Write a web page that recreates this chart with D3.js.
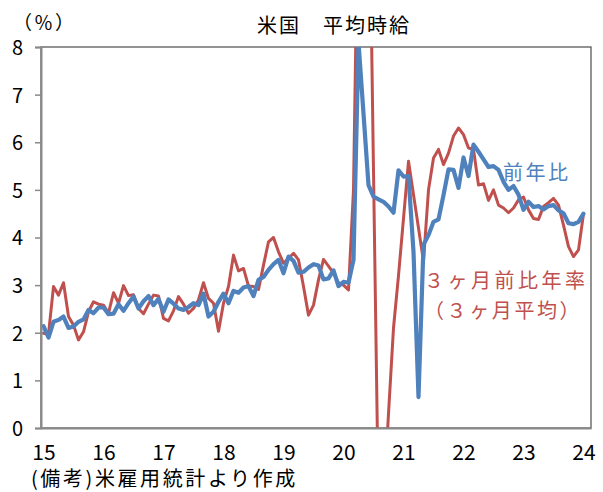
<!DOCTYPE html>
<html>
<head>
<meta charset="utf-8">
<script src="https://cdn.jsdelivr.net/npm/d3@7"></script>
<style>
  body { margin: 0; background: #fff; }
  svg { font-family: "Noto Sans CJK JP", "Noto Sans", sans-serif; }
</style>
</head>
<body>
<div id="chart"></div>
<script>
// 米国 平均時給 : 前年比 と 3ヶ月前比年率(3ヶ月平均), 2015年1月〜2024年1月 (月次)

var yearLabels = ["15", "16", "17", "18", "19", "20", "21", "22", "23", "24"];
var yTicks = [0, 1, 2, 3, 4, 5, 6, 7, 8];

// 前年比 (%)
var yoy = [
  2.14, 1.90, 2.23, 2.27, 2.34, 2.10, 2.13, 2.23, 2.28, 2.48, 2.41, 2.53,
  2.53, 2.39, 2.40, 2.60, 2.46, 2.62, 2.76, 2.51, 2.66, 2.77, 2.58, 2.71,
  2.44, 2.70, 2.61, 2.51, 2.48, 2.54, 2.62, 2.58, 2.82, 2.34, 2.44, 2.65,
  2.82, 2.62, 2.88, 2.84, 2.95, 2.98, 2.77, 3.11, 3.17, 3.32, 3.44, 3.53,
  3.25, 3.60, 3.51, 3.26, 3.28, 3.37, 3.44, 3.41, 3.12, 3.14, 3.31, 2.98,
  3.07, 3.05, 3.53, 8.10, 6.60, 5.10, 4.86, 4.80, 4.75, 4.65, 4.52, 5.41,
  5.28, 5.29, 3.70, 0.65, 3.85, 4.05, 4.33, 4.38, 4.89, 5.43, 5.42, 5.04,
  5.68, 5.29, 5.95, 5.80, 5.64, 5.48, 5.50, 5.42, 5.17, 5.00, 5.08, 4.90,
  4.58, 4.75, 4.64, 4.66, 4.59, 4.66, 4.68, 4.57, 4.51, 4.30, 4.28, 4.33,
  4.50
];

// 3ヶ月前比年率 (3ヶ月平均, %)
var ann3m = [
  1.99, 1.97, 2.97, 2.79, 3.05, 2.34, 2.16, 1.85, 2.02, 2.44, 2.65, 2.60,
  2.58, 2.41, 2.84, 2.62, 2.99, 2.78, 2.80, 2.51, 2.40, 2.60, 2.79, 2.77,
  2.30, 2.25, 2.46, 2.76, 2.60, 2.41, 2.51, 2.69, 3.05, 2.72, 2.62, 2.03,
  2.62, 2.97, 3.63, 3.30, 3.35, 2.98, 2.97, 2.91, 3.42, 3.91, 4.00, 3.70,
  3.46, 3.56, 3.67, 3.53, 2.97, 2.37, 2.58, 3.11, 3.54, 3.40, 3.25, 3.05,
  3.00, 2.90, 5.00, 11.8, 16.0, 12.6, 5.40, -1.7, -1.6, 0.30, 2.10, 3.20,
  4.40, 5.60, 4.90, 4.20, 3.50, 5.00, 5.67, 5.85, 5.53, 5.77, 6.13, 6.30,
  6.16, 5.88, 5.85, 5.10, 5.13, 4.78, 5.00, 4.68, 4.62, 4.52, 4.62, 4.79,
  4.85, 4.58, 4.40, 4.38, 4.65, 4.73, 4.82, 4.68, 4.26, 3.81, 3.60, 3.74,
  4.50
];

var W = 603, H = 492;
var plot = { left: 41, top: 47, right: 591, bottom: 428 };

var svg = d3.select("#chart")
  .append("svg")
  .attr("width", W)
  .attr("height", H);

// month index -> position (each month is one category slot)
var x = d3.scaleLinear()
  .domain([-0.5, yoy.length + 0.5])
  .range([plot.left, plot.right]);

var y = d3.scaleLinear()
  .domain([0, 8])
  .range([plot.bottom, plot.top]);

// plot area frame (top / right)
svg.append("rect")
  .attr("x", plot.left)
  .attr("y", plot.top)
  .attr("width", plot.right - plot.left)
  .attr("height", plot.bottom - plot.top)
  .style("fill", "none")
  .style("stroke", "#595959")
  .style("stroke-width", 1.3);

svg.append("clipPath")
  .attr("id", "clip")
  .append("rect")
  .attr("x", plot.left)
  .attr("y", plot.top)
  .attr("width", plot.right - plot.left)
  .attr("height", plot.bottom - plot.top);

var line = d3.line()
  .x(function (d, i) { return x(i); })
  .y(function (d) { return y(d); });

var series = [
  { name: "ann3m", values: ann3m, color: "#C0504D", width: 3 },
  { name: "yoy", values: yoy, color: "#4F81BD", width: 4.2 }
];

svg.append("g")
  .attr("clip-path", "url(#clip)")
  .selectAll("path")
  .data(series)
  .enter()
  .append("path")
  .attr("d", function (d) { return line(d.values); })
  .style("fill", "none")
  .style("stroke", function (d) { return d.color; })
  .style("stroke-width", function (d) { return d.width; })
  .style("stroke-linejoin", "round")
  .style("stroke-linecap", "round");

// y axis
var yAxis = svg.append("g")
  .attr("transform", "translate(" + plot.left + ",0)")
  .call(d3.axisLeft(y).tickValues(yTicks).tickSize(6).tickPadding(12).tickFormat(d3.format("d")));
yAxis.select(".domain").style("stroke", "#898989").style("stroke-width", 2);
yAxis.selectAll(".tick line").style("stroke", "#898989").style("stroke-width", 1.5);
yAxis.selectAll("text")
  .attr("dy", "0.37em")
  .style("font-size", "20px")
  .style("font-family", "'Noto Sans CJK JP', sans-serif")
  .style("fill", "#000");

// x axis: one label each January
var xAxis = svg.append("g")
  .attr("transform", "translate(0," + plot.bottom + ")")
  .call(d3.axisBottom(x)
    .tickValues(yearLabels.map(function (d, i) { return i * 12; }))
    .tickSize(0)
    .tickPadding(17)
    .tickFormat(function (d) { return yearLabels[d / 12]; }));
xAxis.select(".domain").style("stroke", "#898989").style("stroke-width", 2);
xAxis.selectAll("text")
  .style("font-size", "21px")
  .style("font-family", "'Noto Sans CJK JP', sans-serif")
  .style("fill", "#000");

// title and notes
svg.append("text")
  .attr("x", 334)
  .attr("y", 33)
  .attr("text-anchor", "middle")
  .style("font-size", "20px")
  .style("letter-spacing", "2px")
  .text("米国　平均時給");

svg.append("text")
  .attr("x", 13)
  .attr("y", 30)
  .style("font-size", "19px")
  .style("letter-spacing", "2px")
  .text("（％）");

svg.append("text")
  .attr("x", 31)
  .attr("y", 486)
  .style("font-size", "20px")
  .style("letter-spacing", "2.6px")
  .text("(備考)米雇用統計より作成");

// series labels
svg.append("text")
  .attr("x", 503)
  .attr("y", 180)
  .style("font-size", "20px")
  .style("letter-spacing", "2.5px")
  .style("fill", "#4F81BD")
  .text("前年比");

svg.append("text")
  .attr("x", 424)
  .attr("y", 288)
  .style("font-size", "20px")
  .style("letter-spacing", "3.5px")
  .style("fill", "#C0504D")
  .text("３ヶ月前比年率");

svg.append("text")
  .attr("x", 424)
  .attr("y", 318)
  .style("font-size", "20px")
  .style("letter-spacing", "2.6px")
  .style("fill", "#C0504D")
  .text("（３ヶ月平均）");
</script>
</body>
</html>
